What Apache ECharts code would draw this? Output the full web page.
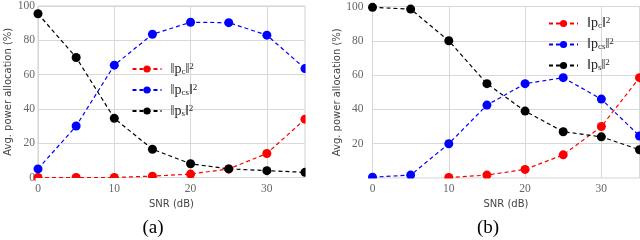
<!DOCTYPE html>
<html><head><meta charset="utf-8">
<script src="https://cdn.jsdelivr.net/npm/echarts@6/dist/echarts.min.js"></script>
<style>html,body{margin:0;padding:0;background:#fff}#c{width:640px;height:240px}</style>
</head><body><div id="c"></div>
<script>
var snr = [0, 5, 10, 15, 20, 25, 30, 35];
var xTicks = [0, 10, 20, 30];
var yTicks = [0, 20, 40, 60, 80, 100];
// (a)
var aC  = [0, 0, 0, 0.8, 2, 5, 14, 34];
var aCS = [5, 30, 65.5, 83.5, 90.5, 90.3, 83, 63.5];
var aS  = [95.5, 70, 34.5, 16.5, 8, 5, 4, 3];
// (b)
var bC  = [null, null, 0.3, 1.7, 5, 13.5, 30, 58.5];
var bCS = [0.5, 1.7, 20, 42.5, 55, 58.5, 46, 24.5];
var bS  = [99.5, 98.5, 80, 55, 39, 27, 24, 16.5];

var names = {a_c:'c', a_cs:'cs', a_s:'s', b_c:'c', b_cs:'cs', b_s:'s'};
function pairs(ys){ return snr.map(function(x,i){ return [x, ys[i]]; }); }
var lab = {color:'#666', fontFamily:'Liberation Serif', fontSize:11.5};
var axName = {color:'#444', fontFamily:'DejaVu Sans', fontSize:10};
function xa(idx){ return {type:'value', gridIndex:idx, min:0, max:35, interval:10, showMaxLabel:false,
  name:'SNR (dB)', nameLocation:'middle', nameGap:19, nameTextStyle:axName,
  axisLine:{show:false}, axisTick:{show:false},
  axisLabel:Object.assign({margin:5, showMaxLabel:false}, lab),
  splitLine:{show:true, lineStyle:{color:'#d8d8d8', width:1}}}; }
function ya(idx, margin, showZero){ return {type:'value', gridIndex:idx, min:0, max:100, interval:20,
  name:'Avg. power allocation (%)', nameLocation:'middle', nameGap:24, nameTextStyle:axName,
  axisLine:{show:false}, axisTick:{show:false},
  axisLabel:Object.assign({margin:margin, showMinLabel:showZero}, lab),
  splitLine:{show:true, lineStyle:{color:'#d8d8d8', width:1}}}; }
function ser(name, ys, color, idx){ return {name:name, type:'line', xAxisIndex:idx, yAxisIndex:idx,
  data:pairs(ys), symbol:'circle', symbolSize:9, color:color, clip:false,
  lineStyle:{color:color, width:1.2, type:[4,3]}, itemStyle:{color:color}}; }
var serif = 'Liberation Serif';
var rich = {
  f:{fontFamily:serif, fontSize:14, color:'#222', lineHeight:14, padding:[0,0,0,4]},
  t:{fontFamily:serif, fontSize:14, color:'#222', lineHeight:14},
  s:{fontFamily:serif, fontSize:9, color:'#222', lineHeight:14, verticalAlign:'bottom'},
  p:{fontFamily:serif, fontSize:9, color:'#222', lineHeight:14, verticalAlign:'top'}};
function fmt(n){ return '{f|\u2016p}{s|' + names[n] + '}{t|\u2016}{p|2}'; }
function leg(data, left, top){ return {orient:'vertical', left:left, top:top, padding:0, data:data, itemWidth:29, itemHeight:9,
  itemGap:7, formatter:fmt, textStyle:{rich:rich}}; }
function cover(x, y, w, h){ return {type:'rect', z:100, silent:true, shape:{x:x, y:y, width:w, height:h}, style:{fill:'#fff'}}; }

var chart = echarts.init(document.getElementById('c'), null, {renderer:'canvas'});
chart.setOption({
  animation:false,
  grid:[{left:38, top:5.5, width:267, height:172, show:true, borderColor:'#cfcfcf', borderWidth:1},
        {left:372.5, top:6.5, width:267, height:171.5, show:true, borderColor:'#cfcfcf', borderWidth:1}],
  xAxis:[xa(0), xa(1)],
  yAxis:[ya(0, 3, true), ya(1, 9, false)],
  legend:[leg(['a_c','a_cs','a_s'], 131.5, 62), leg(['b_c','b_cs','b_s'], 548, 16.5)],
  series:[ser('a_c', aC, '#ff0000', 0), ser('a_cs', aCS, '#0000ff', 0), ser('a_s', aS, '#000000', 0),
          ser('b_c', bC, '#ff0000', 1), ser('b_cs', bCS, '#0000ff', 1), ser('b_s', bS, '#000000', 1)],
  graphic:[
    cover(35.5, 178, 276, 4.6),
    cover(305.6, 0, 7, 178),
    cover(368, 178.6, 272, 4.4),
    {type:'text', x:153, y:228, style:{text:'(a)', font:'19px "Liberation Serif"', fill:'#000', align:'center', verticalAlign:'middle'}},
    {type:'text', x:488, y:228, style:{text:'(b)', font:'19px "Liberation Serif"', fill:'#000', align:'center', verticalAlign:'middle'}}
  ]
});
</script></body></html>
